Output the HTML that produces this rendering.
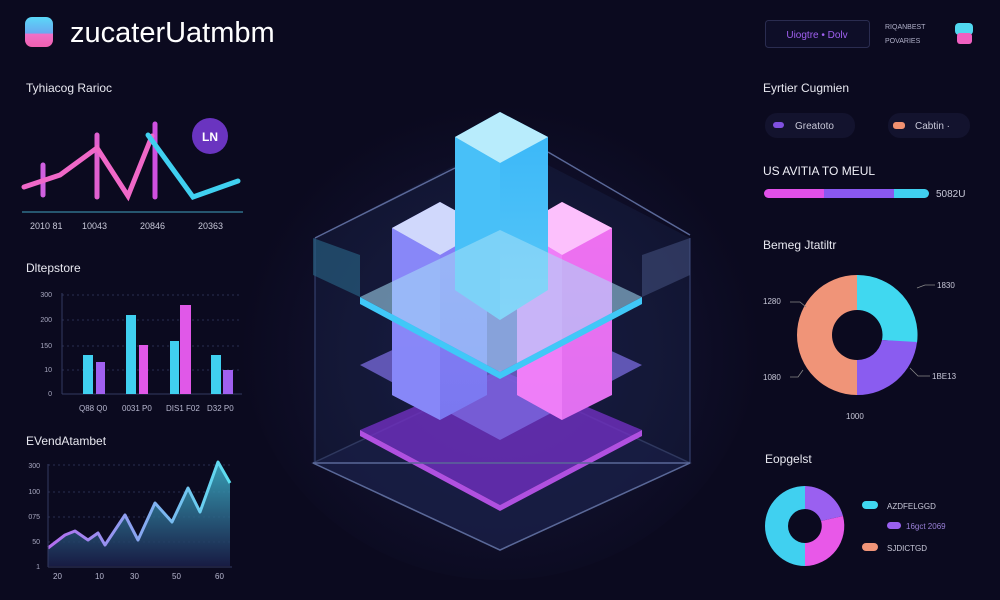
<!DOCTYPE html>
<html><head><meta charset="utf-8"><style>
html,body{margin:0;padding:0;background:#0b0a1f;}
svg{display:block;font-family:"Liberation Sans",sans-serif;}
</style></head><body>
<svg width="1000" height="600" viewBox="0 0 1000 600" xmlns="http://www.w3.org/2000/svg">
<defs>
<radialGradient id="bg" cx="0.5" cy="0.55" r="0.5"><stop offset="0" stop-color="#1a1c45"/><stop offset="1" stop-color="#0b0a1f"/></radialGradient>
<linearGradient id="area" x1="0" y1="0" x2="0" y2="1"><stop offset="0" stop-color="#3fb8d0"/><stop offset="1" stop-color="#1a1f4a"/></linearGradient>
<linearGradient id="aline" x1="0" y1="0" x2="1" y2="0"><stop offset="0" stop-color="#b46cf0"/><stop offset="1" stop-color="#5ce0f0"/></linearGradient>
<linearGradient id="lline" x1="0" y1="0" x2="1" y2="0"><stop offset="0" stop-color="#f060c8"/><stop offset="1" stop-color="#e060e0"/></linearGradient>
<linearGradient id="blueC" x1="0" y1="0" x2="0" y2="1"><stop offset="0" stop-color="#38b6f8"/><stop offset="1" stop-color="#5ac8f8"/></linearGradient>
<linearGradient id="purC" x1="0" y1="0" x2="0" y2="1"><stop offset="0" stop-color="#8a80f8"/><stop offset="1" stop-color="#7a78f0"/></linearGradient>
<linearGradient id="pinkC" x1="0" y1="0" x2="0" y2="1"><stop offset="0" stop-color="#f070f0"/><stop offset="1" stop-color="#e070f0"/></linearGradient>
<linearGradient id="logo" x1="0" y1="0" x2="0" y2="1"><stop offset="0" stop-color="#5ad8f8"/><stop offset="0.55" stop-color="#6aa8f0"/><stop offset="0.56" stop-color="#f070c8"/><stop offset="1" stop-color="#f060b0"/></linearGradient>
</defs>
<rect width="1000" height="600" fill="#0b0a1f"/>
<ellipse cx="500" cy="330" rx="260" ry="250" fill="url(#bg)" opacity="0.8"/>

<!-- Header -->
<rect x="25" y="17" width="28" height="30" rx="7" fill="url(#logo)"/>
<text x="70" y="42" font-size="29" fill="#ffffff">zucaterUatmbm</text>

<!-- Line chart -->
<text x="26" y="92" font-size="12" fill="#e8e8f0">Tyhiacog Rarioc</text>
<line x1="22" y1="212" x2="243" y2="212" stroke="#2f6f8a" stroke-width="1.5"/>
<g stroke-linecap="round" fill="none">
<line x1="43" y1="165" x2="43" y2="195" stroke="#d060e0" stroke-width="5"/>
<line x1="97" y1="135" x2="97" y2="197" stroke="#e060d0" stroke-width="5"/>
<line x1="155" y1="124" x2="155" y2="197" stroke="#d050e0" stroke-width="5"/>
<polyline points="24,187 60,175 97,148 128,196 152,136" stroke="#f068c8" stroke-width="5"/>
<polyline points="148,135 193,197 238,181" stroke="#40d0f0" stroke-width="5"/>
</g>
<circle cx="210" cy="136" r="18" fill="#6a34c0"/>
<text x="210" y="141" font-size="12" fill="#fff" text-anchor="middle" font-weight="bold">LN</text>
<g font-size="9" fill="#c8c8d8"><text x="30" y="229">2010 81</text><text x="82" y="229">10043</text><text x="140" y="229">20846</text><text x="198" y="229">20363</text></g>

<!-- Bar chart -->
<text x="26" y="272" font-size="12" fill="#e8e8f0">Dltepstore</text>
<g stroke="#2a2d52" stroke-width="1" stroke-dasharray="2,3"><line x1="62" y1="295" x2="240" y2="295"/><line x1="62" y1="320" x2="240" y2="320"/><line x1="62" y1="346" x2="240" y2="346"/><line x1="62" y1="370" x2="240" y2="370"/></g>
<line x1="62" y1="293" x2="62" y2="394" stroke="#333a60"/><line x1="62" y1="394" x2="242" y2="394" stroke="#333a60"/>
<g font-size="7" fill="#a8a8c0" text-anchor="end"><text x="52" y="297">300</text><text x="52" y="322">200</text><text x="52" y="348">150</text><text x="52" y="372">10</text><text x="52" y="396">0</text></g>
<rect x="83" y="355" width="10" height="39" fill="#40d0f0"/><rect x="96" y="362" width="9" height="32" fill="#a060f0"/>
<rect x="126" y="315" width="10" height="79" fill="#40d0f0"/><rect x="139" y="345" width="9" height="49" fill="#e058e8"/>
<rect x="170" y="341" width="9" height="53" fill="#40d0f0"/><rect x="180" y="305" width="11" height="89" fill="#e058e8"/>
<rect x="211" y="355" width="10" height="39" fill="#40d0f0"/><rect x="223" y="370" width="10" height="24" fill="#a060f0"/>
<g font-size="8" fill="#b8b8d0"><text x="79" y="411">Q88 Q0</text><text x="122" y="411">0031 P0</text><text x="166" y="411">DIS1 F02</text><text x="207" y="411">D32 P0</text></g>

<!-- Area chart -->
<text x="26" y="445" font-size="12" fill="#e8e8f0">EVendAtambet</text>
<g stroke="#2a2d52" stroke-dasharray="2,3"><line x1="48" y1="465" x2="232" y2="465"/><line x1="48" y1="492" x2="232" y2="492"/><line x1="48" y1="517" x2="232" y2="517"/><line x1="48" y1="542" x2="232" y2="542"/></g>
<polygon points="48,548 65,535 75,531 88,540 98,533 105,545 125,515 138,540 155,503 172,522 188,488 200,512 218,462 230,483 230,566 48,566" fill="url(#area)" opacity="0.85"/>
<polyline points="48,548 65,535 75,531 88,540 98,533 105,545 125,515 138,540 155,503 172,522 188,488 200,512 218,462 230,483" fill="none" stroke="url(#aline)" stroke-width="3" stroke-linejoin="round"/>
<line x1="48" y1="464" x2="48" y2="567" stroke="#333a60"/><line x1="48" y1="567" x2="232" y2="567" stroke="#333a60"/>
<g font-size="7" fill="#a8a8c0" text-anchor="end"><text x="40" y="468">300</text><text x="40" y="494">100</text><text x="40" y="519">075</text><text x="40" y="544">50</text><text x="40" y="569">1</text></g>
<g font-size="8" fill="#b8b8d0"><text x="53" y="579">20</text><text x="95" y="579">10</text><text x="130" y="579">30</text><text x="172" y="579">50</text><text x="215" y="579">60</text></g>

<!-- Center 3D -->
<g>
<polygon points="313,463 500,375 690,463 500,550" fill="#1a1d48" opacity="0.5" stroke="#5a6898" stroke-width="1.5"/>
<polygon points="315,238 455,165 548,165 690,238 690,463 500,550 313,463" fill="#20305a" opacity="0.25"/>
<polyline points="315,238 455,168" stroke="#5a6898" stroke-width="1.5" fill="none"/>
<polyline points="548,152 690,235" stroke="#5a6898" stroke-width="1.5" fill="none"/>
<line x1="315" y1="238" x2="315" y2="463" stroke="#3a4878" stroke-width="1"/>
<line x1="690" y1="238" x2="690" y2="463" stroke="#3a4878" stroke-width="1"/>
<polygon points="313,238 360,255 360,297 313,275" fill="#2a6888" opacity="0.6"/>
<polygon points="690,238 642,255 642,297 690,275" fill="#4a5888" opacity="0.5"/>
<!-- lower purple plates -->
<polygon points="360,430 500,370 642,430 500,505" fill="#7030c0" opacity="0.8"/>
<polygon points="360,430 500,505 642,430 642,436 500,511 360,436" fill="#b050e0"/>
<polygon points="360,365 500,300 642,365 500,440" fill="#8070e8" opacity="0.7"/>
<!-- purple cube -->
<polygon points="392,228 440,202 487,228 487,395 440,420 392,395" fill="url(#purC)"/>
<polygon points="392,228 440,202 487,228 440,255" fill="#d0d8fc"/>
<polygon points="392,228 440,255 440,420 392,395" fill="#8888f8" opacity="0.9"/>
<!-- pink cube -->
<polygon points="517,228 562,202 612,228 612,395 562,420 517,395" fill="url(#pinkC)"/>
<polygon points="517,228 562,202 612,228 562,255" fill="#fcc0fc"/>
<polygon points="517,228 562,255 562,420 517,395" fill="#f080f8" opacity="0.9"/>
<!-- blue cube -->
<polygon points="455,137 500,112 548,137 548,290 500,320 455,290" fill="url(#blueC)"/>
<polygon points="455,137 500,112 548,137 500,163" fill="#b8ecfc"/>
<polygon points="455,137 500,163 500,320 455,290" fill="#48c0f8"/>
<!-- cyan plane -->
<polygon points="360,297 500,230 642,297 500,372" fill="#a8e0f8" opacity="0.55"/>
<polygon points="360,297 500,372 642,297 642,304 500,379 360,304" fill="#40c8f8"/>
<polygon points="313,463 500,550 690,463" fill="none" stroke="#5a6898" stroke-width="1.5"/>
</g>

<!-- Right top -->
<rect x="765.5" y="20.5" width="104" height="27" rx="3" fill="#0e0e28" stroke="#2a2c50"/>
<text x="817" y="38" font-size="10" fill="#a060f0" text-anchor="middle">Uiogtre • Dolv</text>
<text x="885" y="29" font-size="7" fill="#b0b0c8">RIQANBEST</text>
<text x="885" y="43" font-size="7" fill="#b0b0c8">POVARIES</text>
<rect x="955" y="23" width="18" height="12" rx="4" fill="#50d8f0"/><rect x="957" y="33" width="15" height="11" rx="3" fill="#f060c0"/>

<text x="763" y="92" font-size="12" fill="#e8e8f0">Eyrtier Cugmien</text>
<rect x="765" y="113" width="90" height="25" rx="12" fill="#13132e"/>
<rect x="773" y="122" width="11" height="6" rx="3" fill="#8050e0"/>
<text x="795" y="129" font-size="10" fill="#c8c8d8">Greatoto</text>
<rect x="888" y="113" width="82" height="25" rx="12" fill="#13132e"/>
<rect x="893" y="122" width="12" height="7" rx="3" fill="#f09070"/>
<text x="915" y="129" font-size="10" fill="#c8c8d8">Cabtin ·</text>

<text x="763" y="175" font-size="12" fill="#f0f0f8">US  AVITIA TO MEUL</text>
<rect x="764" y="189" width="64" height="9" rx="4.5" fill="#e050e8"/>
<rect x="824" y="189" width="72" height="9" fill="#8a58f0"/>
<rect x="896" y="189" width="33" height="9" rx="4.5" fill="#40d0f0"/>
<rect x="894" y="189" width="10" height="9" fill="#40d0f0"/>
<text x="936" y="197" font-size="10" fill="#c8c8d8">5082U</text>

<text x="763" y="249" font-size="12" fill="#e8e8f0">Bemeg Jtatiltr</text>
<!-- donut 1 center 857,335 -->
<path d="M857,275 A60,60 0 0 1 917,343 L882,340 A25,25 0 0 0 857,310 Z" fill="#40d8f0"/>
<path d="M917,342 A60,60 0 0 1 857,395 L857,360 A25,25 0 0 0 882,340 Z" fill="#8a5cf0"/>
<path d="M857,395 A60,60 0 0 1 857,275 L857,310 A25,25 0 0 0 857,360 Z" fill="#f09478"/>
<g stroke="#888" fill="none" stroke-width="0.8"><polyline points="790,302 800,302 806,307"/><polyline points="917,288 925,285 935,285"/><polyline points="790,377 798,377 803,370"/><polyline points="910,368 918,376 930,376"/></g>
<g font-size="8" fill="#c8c8d8"><text x="763" y="304">1280</text><text x="937" y="288">1830</text><text x="763" y="380">1080</text><text x="932" y="379">1BE13</text><text x="846" y="419">1000</text></g>

<text x="765" y="463" font-size="12" fill="#e8e8f0">Eopgelst</text>
<!-- donut 2 center 805,526 -->
<path d="M805,566 A40,40 0 0 1 805,486 L805,509 A17,17 0 0 0 805,543 Z" fill="#40d0f0"/>
<path d="M805,486 A40,40 0 0 1 843,516 L821,521 A17,17 0 0 0 805,509 Z" fill="#9a60f0"/>
<path d="M843,516 A40,40 0 0 1 805,566 L805,543 A17,17 0 0 0 821,521 Z" fill="#e858e8"/>
<rect x="862" y="501" width="16" height="8" rx="4" fill="#40d8f0"/>
<text x="887" y="509" font-size="8" fill="#c8c8d8">AZDFELGGD</text>
<rect x="887" y="522" width="14" height="7" rx="3.5" fill="#9a60f0"/>
<text x="906" y="529" font-size="8" fill="#9a80d8">16gct 2069</text>
<rect x="862" y="543" width="16" height="8" rx="4" fill="#f09478"/>
<text x="887" y="551" font-size="8" fill="#c8c8d8">SJDICTGD</text>
</svg>
</body></html>
